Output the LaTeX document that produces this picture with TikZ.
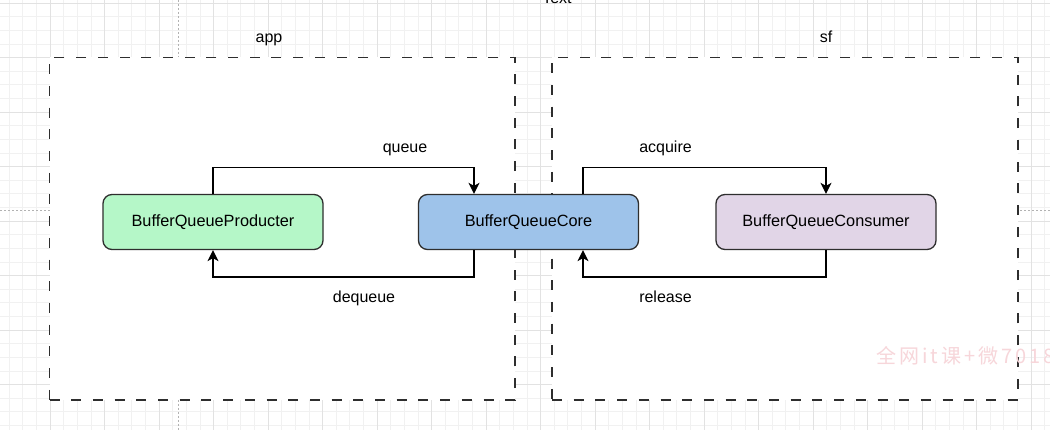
\documentclass[tikz,border=0pt]{standalone}
\usepackage{fontspec}
\setmainfont{Liberation Sans}
\newfontfamily\cjkfont[LetterSpace=15]{Noto Sans CJK SC}
\usetikzlibrary{arrows.meta}
\definecolor{gridminor}{HTML}{F1F1F1}
\definecolor{gridmajor}{HTML}{E2E2E2}
\definecolor{prodfill}{HTML}{B5F7C8}
\definecolor{corefill}{HTML}{9EC3EA}
\definecolor{consfill}{HTML}{E1D5E7}
\definecolor{edgecol}{HTML}{2E2E2E}
\definecolor{wmcol}{HTML}{F7D6DA}
\tikzset{
  comp/.style={draw=edgecol, line width=1.3pt, rounded corners=9pt, minimum width=220pt, minimum height=55pt, inner sep=0pt, font=\fontsize{16.3}{19}\selectfont},
  groupbox/.style={draw=edgecol, line width=1.9pt, dash pattern=on 10pt off 11.7pt, fill=white, inner sep=0pt},
  conn/.style={draw=black, line width=1.3pt, -{Stealth[length=11pt,width=11pt,inset=3pt]}},
  lbl/.style={font=\fontsize{16}{19}\selectfont, anchor=base, inner sep=0pt},
  pagebreak/.style={draw=black!30, line width=0.6pt, dash pattern=on 2pt off 2pt},
}
\begin{document}
\begin{tikzpicture}[x=1pt,y=-1pt]
\useasboundingbox (0,0) rectangle (1050,430);
\fill[white] (0,0) rectangle (1050,430);
% grid
\foreach \k in {-3,...,73} \draw[gridminor, line width=0.6pt] ({50+\k*13.625},0) -- ({50+\k*13.625},430);
\foreach \k in {0,...,31} \draw[gridminor, line width=0.6pt] (0,{3+\k*13.625}) -- (1050,{3+\k*13.625});
\foreach \k in {-1,...,19} \draw[gridmajor, line width=0.6pt] ({50+\k*54.5},0) -- ({50+\k*54.5},430);
\foreach \k in {0,...,8} \draw[gridmajor, line width=0.6pt] (0,{3+\k*54.5}) -- (1050,{3+\k*54.5});
\draw[pagebreak] (178,0) -- (178,430);
\draw[pagebreak] (0,210) -- (1050,210);
% text at top (cut off in the reference)
\node[lbl, font=\fontsize{16}{19}\selectfont] (txt) at (557,4) {Text};
% groups
\node[groupbox, minimum width=465.5pt, minimum height=342.5pt] (app) at (282.25,228.75) {};
\node[groupbox, minimum width=466pt, minimum height=342.5pt] (sf) at (785,228.75) {};
\node[lbl] (applbl) at (269,43) {app};
\node[lbl] (sflbl) at (826,43) {sf};
% components
\node[comp, fill=prodfill] (prod) at (213,222) {BufferQueueProducter};
\node[comp, fill=corefill] (core) at (528.5,222) {BufferQueueCore};
\node[comp, fill=consfill] (cons) at (826,222) {BufferQueueConsumer};
% connector anchors
\coordinate (qtop) at (0,167.5);
\coordinate (qbot) at (0,277);
\coordinate (coreNL) at ([xshift=-54.5pt]core.north);
\coordinate (coreSL) at ([xshift=-54.5pt]core.south);
\coordinate (coreNR) at ([xshift=54.5pt]core.north);
\coordinate (coreSR) at ([xshift=54.5pt]core.south);
\draw[conn] (prod.north) -- (prod.north |- qtop) -| (coreNL);
\draw[conn] (coreSL) -- (coreSL |- qbot) -| (prod.south);
\draw[conn] (coreNR) -- (coreNR |- qtop) -| (cons.north);
\draw[conn] (cons.south) -- (cons.south |- qbot) -| (coreSR);
% labels
\node[lbl] (lq) at (405,153) {queue};
\node[lbl] (ld) at (364,303) {dequeue};
\node[lbl] (la) at (665.5,153) {acquire};
\node[lbl] (lr) at (665.5,303) {release};
% watermark
\node[anchor=base west, inner sep=0pt, text=wmcol, font=\cjkfont\fontsize{20}{24}\selectfont] (wm) at (876,364) {全网it课+微7018};
\end{tikzpicture}
\end{document}
